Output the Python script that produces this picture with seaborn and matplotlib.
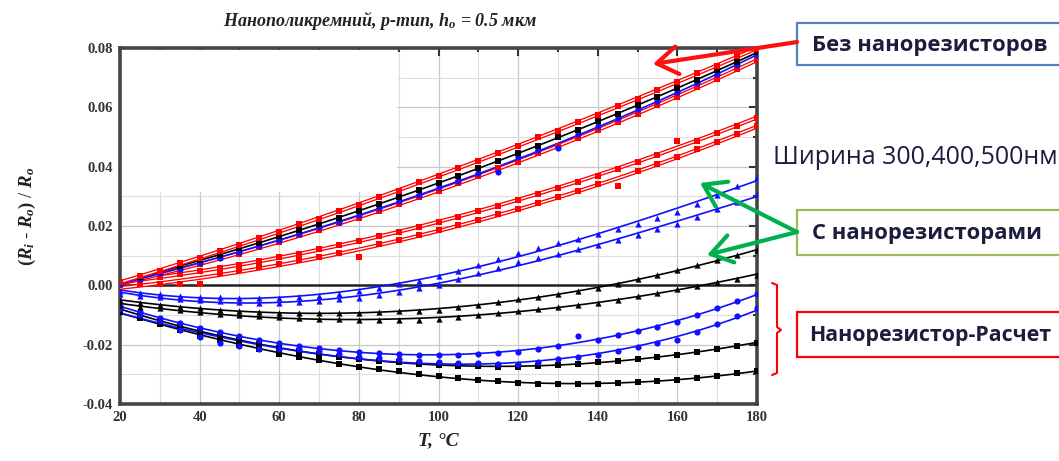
import matplotlib
matplotlib.use("Agg")
import numpy as np
import pandas as pd
import seaborn as sns
import matplotlib.pyplot as plt
import matplotlib.patheffects as pe
from matplotlib.patches import Rectangle, FancyArrowPatch, ArrowStyle
from matplotlib.lines import Line2D
from matplotlib.ticker import MultipleLocator, FormatStrFormatter

# ---------------- data ----------------
T = list(range(20, 181, 5))

# group "Без нанорезисторов" (top bundle)
red_top = [0.0010, 0.0032, 0.0049, 0.0074, 0.0091, 0.0117, 0.0135, 0.0161, 0.0179, 0.0206, 0.0225,
           0.0252, 0.0271, 0.0299, 0.0318, 0.0347, 0.0368, 0.0397, 0.0418, 0.0447, 0.0469, 0.0499,
           0.0521, 0.0551, 0.0574, 0.0605, 0.0628, 0.0660, 0.0684, 0.0716, 0.0740, 0.0772, 0.0798]
black_top = [0.0010, 0.0027, 0.0047, 0.0064, 0.0085, 0.0103, 0.0125, 0.0143, 0.0165, 0.0185, 0.0208,
             0.0228, 0.0252, 0.0273, 0.0298, 0.0320, 0.0346, 0.0368, 0.0395, 0.0418, 0.0446, 0.0470,
             0.0499, 0.0524, 0.0553, 0.0579, 0.0609, 0.0635, 0.0666, 0.0693, 0.0725, 0.0753, 0.0785]
blue_top = [0.0005, 0.0021, 0.0040, 0.0056, 0.0076, 0.0093, 0.0114, 0.0132, 0.0153, 0.0172, 0.0195,
            0.0215, 0.0238, 0.0259, 0.0284, 0.0305, 0.0331, 0.0353, 0.0380, 0.0382, 0.0432, 0.0455,
            0.0462, 0.0509, 0.0538, 0.0564, 0.0594, 0.0621, 0.0653, 0.0681, 0.0713, 0.0742, 0.0776]
red_top2 = [0.0005, 0.0022, 0.0036, 0.0056, 0.0071, 0.0091, 0.0107, 0.0128, 0.0145, 0.0168, 0.0186,
            0.0209, 0.0228, 0.0252, 0.0273, 0.0298, 0.0319, 0.0345, 0.0367, 0.0394, 0.0417, 0.0445,
            0.0469, 0.0497, 0.0522, 0.0552, 0.0578, 0.0609, 0.0636, 0.0668, 0.0696, 0.0729, 0.0759]
# second red pair
red_mid1 = [0.0010, 0.0019, 0.0028, 0.0037, 0.0047, 0.0058, 0.0070, 0.0081, 0.0094, 0.0107, 0.0121,
            0.0135, 0.0149, 0.0165, 0.0181, 0.0197, 0.0214, 0.0232, 0.0250, 0.0268, 0.0288, 0.0308,
            0.0328, 0.0349, 0.0370, 0.0393, 0.0415, 0.0438, 0.0485, 0.0487, 0.0512, 0.0537, 0.0563]
red_mid2 = [0.0000, 0.0003, 0.0005, 0.0004, 0.0006, 0.0041, 0.0051, 0.0061, 0.0073, 0.0084, 0.0097,
            0.0110, 0.0095, 0.0139, 0.0154, 0.0170, 0.0186, 0.0203, 0.0221, 0.0239, 0.0258, 0.0278,
            0.0298, 0.0319, 0.0341, 0.0335, 0.0386, 0.0409, 0.0433, 0.0458, 0.0483, 0.0509, 0.0536]
# group "С нанорезисторами"
blue_mid1 = [-0.0020, -0.0025, -0.0030, -0.0035, -0.0038, -0.0040, -0.0042, -0.0043, -0.0042, -0.0040,
             -0.0035, -0.0028, -0.0020, -0.0009, 0.0003, 0.0016, 0.0030, 0.0049, 0.0068, 0.0090,
             0.0110, 0.0126, 0.0142, 0.0157, 0.0173, 0.0190, 0.0208, 0.0227, 0.0247, 0.0275,
             0.0305, 0.0335, 0.0366]
blue_mid2 = [-0.0030, -0.0035, -0.0040, -0.0045, -0.0050, -0.0053, -0.0056, -0.0058, -0.0058, -0.0056,
             -0.0052, -0.0047, -0.0042, -0.0032, -0.0022, -0.0010, 0.0000, 0.0020, 0.0040, 0.0060,
             0.0078, 0.0093, 0.0107, 0.0122, 0.0136, 0.0153, 0.0171, 0.0189, 0.0207, 0.0231,
             0.0256, 0.0282, 0.0308]
black_mid1 = [-0.0050, -0.0058, -0.0065, -0.0072, -0.0078, -0.0082, -0.0086, -0.0089, -0.0092, -0.0093,
              -0.0094, -0.0094, -0.0093, -0.0091, -0.0088, -0.0086, -0.0083, -0.0074, -0.0065, -0.0056,
              -0.0047, -0.0038, -0.0028, -0.0019, -0.0010, 0.0005, 0.0020, 0.0035, 0.0050, 0.0067,
              0.0084, 0.0101, 0.0119]
black_mid2 = [-0.0065, -0.0072, -0.0078, -0.0084, -0.0090, -0.0095, -0.0100, -0.0104, -0.0108, -0.0110,
              -0.0113, -0.0115, -0.0117, -0.0117, -0.0117, -0.0116, -0.0115, -0.0107, -0.0100, -0.0092,
              -0.0085, -0.0079, -0.0073, -0.0066, -0.0060, -0.0048, -0.0037, -0.0025, -0.0013, -0.0001,
              0.0011, 0.0022, 0.0034]
# group "Нанорезистор-Расчет"
blue_low1 = [-0.0070, -0.0090, -0.0110, -0.0128, -0.0145, -0.0158, -0.0172, -0.0184, -0.0195, -0.0204,
             -0.0212, -0.0219, -0.0225, -0.0229, -0.0232, -0.0234, -0.0235, -0.0234, -0.0232, -0.0229,
             -0.0225, -0.0215, -0.0204, -0.0170, -0.0183, -0.0168, -0.0154, -0.0139, -0.0125, -0.0101,
             -0.0077, -0.0054, -0.0030]
blue_low2 = [-0.0080, -0.0100, -0.0120, -0.0150, -0.0175, -0.0195, -0.0205, -0.0215, -0.0215, -0.0214,
             -0.0223, -0.0231, -0.0240, -0.0245, -0.0250, -0.0255, -0.0260, -0.0261, -0.0263, -0.0264,
             -0.0265, -0.0257, -0.0250, -0.0242, -0.0234, -0.0221, -0.0208, -0.0196, -0.0183, -0.0156,
             -0.0129, -0.0102, -0.0075]
black_low1 = [-0.0080, -0.0100, -0.0120, -0.0138, -0.0155, -0.0170, -0.0184, -0.0197, -0.0210, -0.0220,
              -0.0230, -0.0240, -0.0250, -0.0255, -0.0260, -0.0265, -0.0270, -0.0271, -0.0273, -0.0274,
              -0.0275, -0.0271, -0.0268, -0.0264, -0.0260, -0.0254, -0.0248, -0.0241, -0.0235, -0.0225,
              -0.0214, -0.0204, -0.0193]
black_low2 = [-0.0090, -0.0110, -0.0130, -0.0150, -0.0170, -0.0185, -0.0200, -0.0215, -0.0230, -0.0241,
              -0.0252, -0.0264, -0.0275, -0.0283, -0.0290, -0.0298, -0.0305, -0.0311, -0.0318, -0.0324,
              -0.0330, -0.0331, -0.0332, -0.0332, -0.0333, -0.0330, -0.0327, -0.0323, -0.0320, -0.0312,
              -0.0304, -0.0296, -0.0288]

x_ticks = [20, 40, 60, 80, 100, 120, 140, 160, 180]
y_ticks = [-0.04, -0.02, 0.00, 0.02, 0.04, 0.06, 0.08]

title = "Нанополикремний, p-тип, $h_o$ = 0.5 мкм"
ylabel = r"$( R_i$ - $R_o )$ / $R_o$"
xlabel = "T, °C"
label_no = "Без нанорезисторов"
label_width = "Ширина 300,400,500нм"
label_with = "С нанорезисторами"
label_calc = "Нанорезистор-Расчет"

RED, BLUE, BLACK = "#ff0000", "#1010ff", "#000000"

series = [
    (black_low2, BLACK, "s", False),
    (black_low1, BLACK, "s", False),
    (blue_low2, BLUE, "o", False),
    (blue_low1, BLUE, "o", False),
    (black_mid2, BLACK, "^", False),
    (black_mid1, BLACK, "^", False),
    (blue_mid2, BLUE, "^", False),
    (blue_mid1, BLUE, "^", False),
    (red_mid2, RED, "s", True),
    (red_mid1, RED, "s", True),
    (red_top2, RED, "s", True),
    (blue_top, BLUE, "o", False),
    (black_top, BLACK, "s", False),
    (red_top, RED, "s", True),
]

# ---------------- style ----------------
sns.set_theme(style="white")
plt.rcParams["font.family"] = ["Liberation Serif", "DejaVu Sans"]
plt.rcParams["mathtext.fontset"] = "custom"
plt.rcParams["mathtext.it"] = "Liberation Serif:italic:bold"
plt.rcParams["mathtext.rm"] = "Liberation Serif:bold"
plt.rcParams["mathtext.bf"] = "Liberation Serif:bold"

W, H = 1059, 461
fig = plt.figure(figsize=(W / 100, H / 100), dpi=100)
fig.patch.set_facecolor("white")
ax = fig.add_axes([120 / W, 1 - 404 / H, (757 - 120) / W, (404 - 48) / H])
ax.set_facecolor("white")

for vals, col, mk, dbl in series:
    df = pd.DataFrame({"T": T, "v": vals})
    if dbl:
        lk = dict(lw=1, zorder=3,
                  path_effects=[pe.Stroke(linewidth=2.9, foreground=col),
                                pe.Stroke(linewidth=1.0, foreground="white")])
    else:
        lk = dict(lw=1.2, zorder=3)
    sns.regplot(data=df, x="T", y="v", order=3, ci=None, ax=ax, color=col,
                marker=mk, scatter_kws=dict(s=20, linewidths=0, zorder=4, alpha=1),
                line_kws=lk)

ax.axhline(0, color="#222222", lw=1.8, zorder=2.5)

# blank patch in upper left (as in the source image)
ax.add_patch(Rectangle((20.6, 0.0316), 69.0, 0.0476, facecolor="white",
                       edgecolor="none", zorder=1))

ax.set_xlim(20, 180)
ax.set_ylim(-0.04, 0.08)
ax.set_xticks(x_ticks)
ax.set_yticks(y_ticks)
ax.xaxis.set_minor_locator(MultipleLocator(10))
ax.yaxis.set_minor_locator(MultipleLocator(0.01))
ax.yaxis.set_major_formatter(FormatStrFormatter("%.2f"))
ax.set_axisbelow(True)
ax.grid(which="major", color="#c8c8c8", lw=0.9)
ax.grid(which="minor", color="#dedede", lw=0.8)
ax.tick_params(which="both", direction="in", top=True, right=True,
               color="#333333", width=1.5, labelsize=10.5, labelcolor="#333333")
ax.tick_params(which="major", length=6, pad=5)
ax.tick_params(which="minor", length=3)
for lab in ax.get_xticklabels() + ax.get_yticklabels():
    lab.set_fontweight("bold")
for sp in ax.spines.values():
    sp.set_linewidth(2.6)
    sp.set_color("#444444")
    sp.set_visible(True)

ax.set_xlabel(xlabel, fontsize=14, fontweight="bold", fontstyle="italic",
              color="#222222", labelpad=6)
ax.set_ylabel("")
fig.text(27 / W, 1 - 216 / H, ylabel, fontsize=13.5, color="#222222",
         rotation=90, ha="center", va="center")
fig.text(380 / W, 1 - 20 / H, title, fontsize=13, fontweight="bold", fontstyle="italic",
         color="#222222", ha="center", va="center")

# ---------------- annotations (figure pixel coords) ----------------
def fp(x, y):
    return (x / W, 1 - y / H)

def box(y0, y1, ec):
    x0, y0f = fp(797, y1)
    fig.add_artist(Rectangle((x0, y0f), (W + 10 - 797) / W, (y1 - y0) / H,
                             transform=fig.transFigure, facecolor="white",
                             edgecolor=ec, lw=1.6, zorder=5, clip_on=False))

box(23, 65, "#4f81bd")
box(210, 255, "#9bbb59")
box(312, 357, "#ff0000")

txt_kw = dict(transform=fig.transFigure, va="center", ha="left", color="#1c1c3c",
              family=["Open Sans", "DejaVu Sans"], zorder=6)
fig.text(*fp(812, 45), label_no, fontsize=15.8, fontweight="bold", **txt_kw)
fig.text(*fp(773, 158), label_width, fontsize=18, **txt_kw)
fig.text(*fp(812, 233), label_with, fontsize=15.8, fontweight="bold", **txt_kw)
fig.text(*fp(809, 335), label_calc, fontsize=15.4, fontweight="bold", **txt_kw)

def arrow(p0, p1, col):
    a = FancyArrowPatch(fp(*p0), fp(*p1), transform=fig.transFigure,
                        arrowstyle=ArrowStyle("->", head_length=6, head_width=4),
                        mutation_scale=2.5, lw=3, color=col, zorder=6, clip_on=False,
                        shrinkA=0, shrinkB=0)
    fig.add_artist(a)

arrow((797, 42), (653, 64), "#ff1010")
arrow((797, 232), (700, 183), "#00b050")
arrow((797, 232), (707, 255), "#00b050")

bx = [772, 777, 777, 781, 777, 777, 772]
by = [283, 285, 327, 330, 333, 373, 375]
fig.add_artist(Line2D([x / W for x in bx], [1 - y / H for y in by],
                      transform=fig.transFigure, color="#ff0000", lw=1.5, zorder=6))

fig.savefig("out.png", dpi=100)
